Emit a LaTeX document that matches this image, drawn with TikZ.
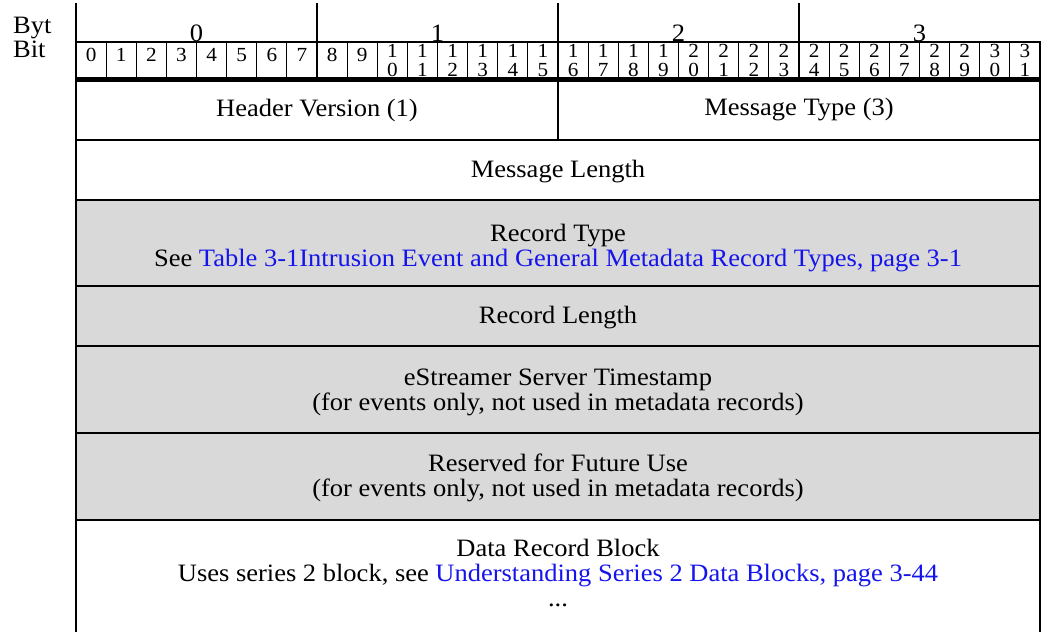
\documentclass[tikz,border=0pt]{standalone}
\usepackage{fontspec}
\setmainfont{Liberation Serif}[FakeStretch=1.06]
\definecolor{cellgray}{HTML}{D9D9D9}
\definecolor{linkblue}{RGB}{20,20,235}
\begin{document}
\begin{tikzpicture}[x=1pt,y=-1pt,
  txt/.style={font=\fontsize{25}{25}\selectfont, align=center, inner sep=0pt},
  lbl/.style={font=\fontsize{25}{25}\selectfont, inner sep=0pt, anchor=base},
  bitnum/.style={font=\fontsize{20}{20}\selectfont, inner sep=0pt, anchor=base},
  border/.style={line width=2.2pt},
  rowline/.style={line width=1.8pt},
  cellline/.style={line width=0.9pt}]
\useasboundingbox (0,0) rectangle (1042,632);
% gray rows
\fill[cellgray] (76,200) rectangle (1040,520);
% row separators
\foreach \y in {140,200,286,346,433,520}
  \draw[rowline] (76,\y) -- (1040,\y);
% bit cell lines
\foreach \i in {1,...,31}
  \draw[cellline] ({76+\i*30.125},42) -- ({76+\i*30.125},80);
% bit numbers
\foreach \i in {0,...,9}
  \node[bitnum] (b\i) at ({76+(\i+0.5)*30.125},61) {\i};
\foreach \i in {10,...,31}{
  \pgfmathtruncatemacro{\t}{floor(\i/10)}
  \pgfmathtruncatemacro{\u}{mod(\i,10)}
  \node[bitnum] (bt\i) at ({76+(\i+0.5)*30.125},57) {\t};
  \node[bitnum] (bb\i) at ({76+(\i+0.5)*30.125},76) {\u};
}
% byte dividers
\draw[border] (317,3) -- (317,80);
\draw[border] (558,3) -- (558,140);
\draw[border] (799,3) -- (799,80);
% top of bit row and thick rule
\draw[border] (76,42) -- (1040,42);
\draw[line width=4.5pt] (76,79.5) -- (1040,79.5);
% outer borders
\draw[border] (76,3) -- (76,632);
\draw[border] (1040,41) -- (1040,632);
% byte labels
\node[lbl] (by0) at (196.5,41.5) {0};
\node[lbl] (by1) at (437.5,41.5) {1};
\node[lbl] (by2) at (678.5,41.5) {2};
\node[lbl] (by3) at (919.5,41.5) {3};
\node[lbl, anchor=base west] (byt) at (13,33) {Byt};
\node[lbl, anchor=base west] (bit) at (13,57.5) {Bit};
% field texts
\node[txt] (hv) at (317,110) {Header Version (1)};
\node[txt] (mt) at (799,110) {Message Type (3)};
\node[txt] (ml) at (558,172) {Message Length};
\node[txt] (rt) at (558,248) {Record Type\\See \textcolor{linkblue}{Table 3-1Intrusion Event and General Metadata Record Types, page 3-1}};
\node[txt] (rl) at (558,318) {Record Length};
\node[txt] (es) at (558,392) {eStreamer Server Timestamp\\(for events only, not used in metadata records)};
\node[txt] (rf) at (558,478) {Reserved for Future Use\\(for events only, not used in metadata records)};
\node[txt] (db) at (558,573) {Data Record Block\\Uses series 2 block, see \textcolor{linkblue}{Understanding Series 2 Data Blocks, page 3-44}\\...};
\end{tikzpicture}
\end{document}
